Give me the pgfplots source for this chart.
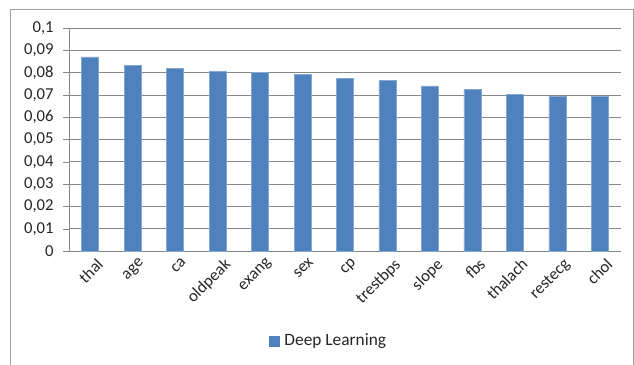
\documentclass[border=0pt]{standalone}
\usepackage{pgfplots}
\pgfplotsset{compat=1.18}
\usepackage{fontspec}
\setmainfont{Carlito}
\definecolor{barblue}{HTML}{4F81BD}
\definecolor{gridgray}{HTML}{878787}
\definecolor{bordergray}{HTML}{A0A0A0}
\begin{document}
\begin{tikzpicture}
\useasboundingbox (-51.75pt,-84.75pt) rectangle (423.75pt,188.25pt);
\draw[bordergray, line width=0.75pt] (-43.5pt,-90pt) -- (-43.5pt,180.75pt) -- (423pt,180.75pt) -- (423pt,-90pt);
\begin{axis}[
  at={(0pt,0pt)}, anchor=south west,
  scale only axis,
  width=414pt, height=167.25pt,
  xmin=-0.5, xmax=12.5,
  ymin=0, ymax=0.1,
  ytick={0,0.01,...,0.1},
  xtick={0,...,12},
  xticklabels={thal,age,ca,oldpeak,exang,sex,cp,trestbps,slope,fbs,thalach,restecg,chol},
  x tick label style={rotate=45, anchor=north east, inner sep=1pt, yshift=-2pt, xshift=4pt},
  major x tick style={draw=none},
  extra x ticks={-0.5,0.5,...,12.5},
  extra x tick labels={},
  extra x tick style={grid=none, major tick length=4.5pt, tick style={draw=gridgray}},
  axis x line*=bottom, axis y line*=left,
  axis line style={draw=gridgray, -},
  tick align=outside,
  major tick length=4.5pt,
  tick style={draw=gridgray},
  ymajorgrids, grid style={gridgray, line width=0.6pt},
  yticklabel style={xshift=-3.5pt, /pgf/number format/.cd, fixed, precision=2, use comma},
  /pgf/number format/assume math mode=true,
  tick label style={font=\fontsize{12.5}{14}\selectfont, text=black!85},
  ybar, bar width=0.4,
  legend style={at={(0.471,-0.4036)}, anchor=center, draw=none, fill=none,
    font=\fontsize{13}{15}\selectfont, text=black!85},
  legend image code/.code={\fill[barblue] (0pt,-3.6pt) rectangle (7pt,3.6pt);},
]
\addplot[fill=barblue, draw=barblue!70!white, line width=0.4pt] coordinates {
(0,0.0870) (1,0.0831) (2,0.0820) (3,0.0807) (4,0.0801) (5,0.0792) (6,0.0774)
(7,0.0764) (8,0.0740) (9,0.0725) (10,0.0701) (11,0.0696) (12,0.0692)};
\addlegendentry{\hspace{2pt}Deep Learning}
\end{axis}
\end{tikzpicture}
\end{document}
